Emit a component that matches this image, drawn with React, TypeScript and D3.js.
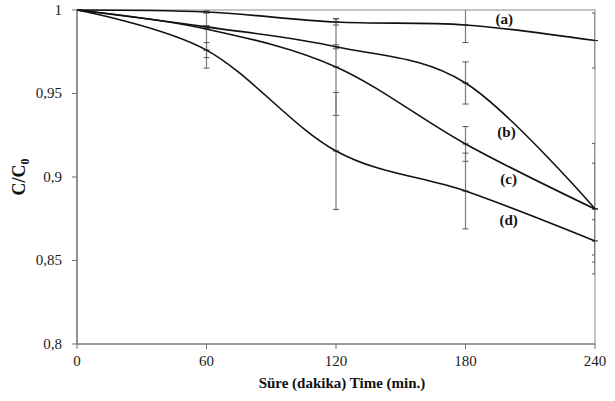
import * as d3 from "d3";

// time points (min.)
const times = [0, 60, 120, 180, 240];
const xTicks = [0, 60, 120, 180, 240];
const yTicks = [0.8, 0.85, 0.9, 0.95, 1];

// C/C0 values per curve
const seriesA = [1, 0.9988, 0.9928, 0.991, 0.9817];
const seriesB = [1, 0.9899, 0.978, 0.9563, 0.881];
const seriesC = [1, 0.9886, 0.9659, 0.9198, 0.8808];
const seriesD = [1, 0.976, 0.9156, 0.8916, 0.8617];

// error bar half-lengths
const errA = [0, 0.0007, 0.0018, 0.0105, 0.0165];
const errB = [0, 0.0008, 0.0012, 0.0126, 0.039];
const errC = [0, 0.0234, 0.029, 0.0104, 0.0275];
const errD = [0, 0.0045, 0.035, 0.0227, 0.0127];

const labels = ["(a)", "(b)", "(c)", "(d)"];
// label anchor in data units [time, C/C0]
const labelPos = [
  [198, 0.9916],
  [199, 0.924],
  [200, 0.8958],
  [200, 0.8713],
];

const W = 615,
  H = 401;
const margin = { top: 10, right: 20, bottom: 57, left: 77 };
const width = W - margin.left - margin.right,
  height = H - margin.top - margin.bottom;

const css = `
html body svg#chart text, html body svg#chart tspan {
  font-family: 'Liberation Serif', 'Times New Roman', serif !important;
}
`;

const App = () => {
  const x = d3.scaleLinear().domain([0, 240]).range([0, width]);
  const y = d3.scaleLinear().domain([0.8, 1]).range([height, 0]);

  const all = [seriesA, seriesB, seriesC, seriesD];
  const errs = [errA, errB, errC, errD];

  const line = d3
    .line<number>()
    .x((_, j) => x(times[j]))
    .y((d) => y(d))
    .curve(d3.curveCatmullRom.alpha(0));

  const fmt = (v: number) => d3.format("")(v).replace(".", ",");

  return (
    <svg
      id="chart"
      width={W}
      height={H}
      style={{ position: "absolute", left: 0, top: 0 }}
    >
      <style>{css}</style>
      <defs>
        <clipPath id="plotclip">
          <rect width={width} height={height} />
        </clipPath>
      </defs>
      <g transform={`translate(${margin.left},${margin.top})`}>
        {/* plot area border */}
        <rect width={width} height={height} fill="none" stroke="#8c8c8c" />

        {/* error bars */}
        <g clipPath="url(#plotclip)">
          {all.map((s, i) =>
            s.map((v, j) => {
              const e = errs[i][j];
              if (!e) return null;
              const cx = x(times[j]);
              return (
                <g key={`${i}-${j}`}>
                  <line x1={cx} x2={cx} y1={y(v + e)} y2={y(v - e)} stroke="#7a7a7a" strokeWidth={1.2} />
                  <line x1={cx - 3} x2={cx + 3} y1={y(v + e)} y2={y(v + e)} stroke="#555" />
                  <line x1={cx - 3} x2={cx + 3} y1={y(v - e)} y2={y(v - e)} stroke="#555" />
                </g>
              );
            })
          )}
        </g>

        {/* smoothed curves */}
        {all.map((s, i) => (
          <path key={i} d={line(s) ?? ""} fill="none" stroke="#111" strokeWidth={1.6} />
        ))}
        {all.map((s, i) =>
          s.map((v, j) =>
            j === 0 ? null : (
              <line
                key={`m${i}-${j}`}
                x1={x(times[j]) - 3}
                x2={x(times[j]) + 3}
                y1={y(v)}
                y2={y(v)}
                stroke="#222"
              />
            )
          )
        )}

        {/* x axis */}
        <line x1={0} x2={width} y1={height} y2={height} stroke="#6e6e6e" strokeWidth={1.2} />
        {xTicks.map((t) => (
          <g key={t} transform={`translate(${x(t)},${height})`}>
            <line y2={5} stroke="#6e6e6e" />
            <text y={22} textAnchor="middle" fill="#222" fontSize={15}>
              {t}
            </text>
          </g>
        ))}

        {/* y axis */}
        <line x1={0} x2={0} y1={0} y2={height} stroke="#6e6e6e" strokeWidth={1.2} />
        {yTicks.map((t) => (
          <g key={t} transform={`translate(0,${y(t)})`}>
            <line x2={-5} stroke="#6e6e6e" />
            <text x={-15} dy="0.32em" textAnchor="end" fill="#222" fontSize={15}>
              {fmt(t)}
            </text>
          </g>
        ))}

        {/* curve labels */}
        {labels.map((l, i) => (
          <text
            key={l}
            x={x(labelPos[i][0])}
            y={y(labelPos[i][1])}
            textAnchor="middle"
            fill="#111"
            fontSize={15}
            fontWeight="bold"
          >
            {l}
          </text>
        ))}

        {/* axis titles */}
        <text
          x={width / 2 + 6}
          y={height + 44}
          textAnchor="middle"
          fill="#111"
          fontSize={15}
          fontWeight="bold"
        >
          Süre (dakika) Time (min.)
        </text>
        <text
          transform={`translate(-52,${height / 2}) rotate(-90)`}
          textAnchor="middle"
          fill="#111"
          fontSize={18}
          fontWeight="bold"
        >
          C/C
          <tspan dy={4} fontSize={12}>
            0
          </tspan>
        </text>
      </g>
    </svg>
  );
};

export default App;
